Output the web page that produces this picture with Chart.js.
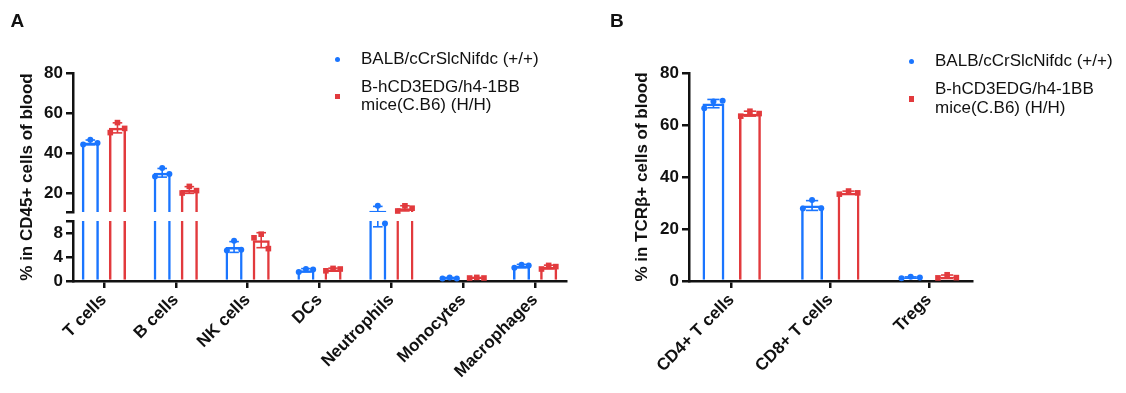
<!DOCTYPE html>
<html>
<head>
<meta charset="utf-8">
<script src="https://cdn.jsdelivr.net/npm/chart.js@4.4.1/dist/chart.umd.min.js"></script>
<style>
  body { margin: 0; background: #fff; }
  #page { position: relative; width: 1126px; height: 393px; overflow: hidden; font-family: "Liberation Sans", Arial, sans-serif; color: #111; }
  canvas { position: absolute; top: 0; }
  .letter { position: absolute; font-size: 19px; line-height: 19px; font-weight: bold; }
  .ytitle { position: absolute; width: 260px; height: 20px; line-height: 20px; text-align: center; font-size: 17px; font-weight: bold; transform: rotate(-90deg); white-space: nowrap; }
  .legend { position: absolute; font-size: 17px; line-height: 18.5px; }
  .legend .row { position: relative; white-space: pre; }
  .legend .mk { position: absolute; }
  .legend .dot { width: 5px; height: 5px; border-radius: 50%; left: -25.8px; top: 7px; }
  .legend .sq { width: 5.5px; height: 5.5px; left: -26.4px; top: 16px; }
</style>
</head>
<body>
<div id="page">
  <canvas id="chartA" width="590" height="393" style="left:0"></canvas>
  <canvas id="chartB" width="536" height="393" style="left:590px"></canvas>
  <div class="letter" style="left:10.5px;top:11px">A</div>
  <div class="letter" style="left:610px;top:11px">B</div>
</div>
<script>
// panel A: % in CD45+ cells, three mice per group
const categoriesA = ['T cells', 'B cells', 'NK cells', 'DCs', 'Neutrophils', 'Monocytes', 'Macrophages'];
const balbA = [[44.2, 46.6, 45.0], [28.3, 32.5, 29.5], [5.1, 6.7, 5.2], [1.5, 2.0, 1.9],
               [10.3, 13.6, 9.6], [0.4, 0.6, 0.4], [2.2, 2.7, 2.6]];
const humA = [[50.2, 55.2, 52.3], [20.0, 23.3, 21.2], [7.2, 7.8, 5.4], [1.7, 2.1, 2.0],
              [11.0, 13.6, 12.4], [0.5, 0.6, 0.5], [2.0, 2.6, 2.4]];
const ticksHighA = [20, 40, 60, 80];
const ticksLowA = [0, 4, 8];
const breakLowA = 10;    // top of the lower segment
const breakHighA = 10.5; // bottom of the upper segment

// panel B: % in TCRb+ cells
const categoriesB = ['CD4+ T cells', 'CD8+ T cells', 'Tregs'];
const balbB = [[66.4, 69.0, 69.3], [27.9, 31.2, 28.0], [1.1, 1.6, 1.3]];
const humB = [[63.4, 65.3, 64.4], [33.4, 34.6, 33.9], [1.2, 2.4, 1.3]];
const ticksB = [0, 20, 40, 60, 80];

const seriesNames = ['BALB/cCrSlcNifdc (+/+)', 'B-hCD3EDG/h4-1BB\nmice(C.B6) (H/H)'];
const yTitles = ['% in CD45+ cells of blood', '% in TCRβ+ cells of blood'];
const BLUE = '#1a75ff';
const RED = '#e23a3d';
const INK = '#111';

Chart.defaults.font.family = '"Liberation Sans", Arial, sans-serif';
Chart.defaults.font.size = 17;
Chart.defaults.font.weight = 'bold';
Chart.defaults.color = INK;

const mean = a => a.reduce((s, v) => s + v, 0) / a.length;
const sd = a => {
    const m = mean(a);
    return Math.sqrt(a.reduce((s, v) => s + (v - m) * (v - m), 0) / (a.length - 1));
};

const axisLine = { display: true, color: INK, width: 2.5 };
const tickMarks = { display: true, offset: false, drawOnChartArea: false, drawTicks: true, tickLength: 7, color: INK, lineWidth: 2.5 };

function xScale(cats, lo, hi) {
    return {
        type: 'linear', min: lo, max: hi, offset: false,
        afterBuildTicks: s => { s.ticks = cats.map((c, i) => ({ value: i })); },
        afterFit: s => { s.height = 112; s.paddingLeft = 0; s.paddingRight = 0; },
        ticks: { autoSkip: false, minRotation: 45, maxRotation: 45, padding: 2, callback: v => cats[v] },
        grid: tickMarks,
        border: axisLine
    };
}

function yScale(min, max, ticks, blank, width, extra) {
    return Object.assign({
        type: 'linear', position: 'left', min: min, max: max,
        afterBuildTicks: s => { s.ticks = ticks.map(v => ({ value: v })); },
        afterFit: s => { s.width = width; s.paddingTop = 0; s.paddingBottom = 0; },
        ticks: { autoSkip: false, padding: 3, callback: v => (blank.includes(v) ? '' : v) },
        grid: tickMarks,
        border: axisLine
    }, extra || {});
}

function bars(groups, color, stack, axis, marker, pct) {
    return {
        data: groups.map((g, i) => ({ x: i, y: mean(g) })),
        groups: groups,
        marker: marker,
        stack: stack,
        yAxisID: axis,
        borderColor: color,
        backgroundColor: 'rgba(255,255,255,0)',
        borderWidth: 2.5,
        categoryPercentage: pct[0],
        barPercentage: pct[1]
    };
}

// each dataset only paints inside the box of its own y axis (broken axis)
const clipToAxis = {
    id: 'clipToAxis',
    beforeDatasetDraw(chart, args) {
        const s = chart.scales[args.meta.yAxisID];
        const a = chart.chartArea;
        chart.ctx.save();
        chart.ctx.beginPath();
        chart.ctx.rect(a.left, s.top, a.right - a.left, s.bottom - s.top);
        chart.ctx.clip();
    },
    afterDatasetDraw(chart) {
        chart.ctx.restore();
    }
};

const spread = [-0.42, 0, 0.42];

function makeMarks(segments) {
    return {
        id: 'marks',
        afterDatasetsDraw(chart) {
            const ctx = chart.ctx;
            const segs = segments.map(s => ({ scale: chart.scales[s.axis], lo: s.lo, hi: s.hi }));
            const pix = v => {
                const s = segs.find(s => v >= s.lo && v <= s.hi);
                return s ? s.scale.getPixelForValue(v) : null;
            };
            const line = (x0, y0, x1, y1) => {
                ctx.beginPath(); ctx.moveTo(x0, y0); ctx.lineTo(x1, y1); ctx.stroke();
            };
            chart.data.datasets.forEach((ds, di) => {
                if (!ds.marker) return;
                const meta = chart.getDatasetMeta(di);
                meta.data.forEach((bar, i) => {
                    const g = ds.groups[i];
                    const m = mean(g), d = sd(g);
                    const half = bar.width * 0.28;
                    ctx.save();
                    ctx.strokeStyle = ds.borderColor;
                    ctx.fillStyle = ds.borderColor;
                    ctx.lineWidth = 1.6;
                    segs.forEach(s => {
                        const a = Math.max(m - d, s.lo), b = Math.min(m + d, s.hi);
                        if (a < b) line(bar.x, s.scale.getPixelForValue(a), bar.x, s.scale.getPixelForValue(b));
                    });
                    [m - d, m + d].forEach(v => {
                        const y = pix(v);
                        if (y !== null) line(bar.x - half, y, bar.x + half, y);
                    });
                    g.forEach((v, k) => {
                        const y = pix(v);
                        if (y === null) return;
                        const x = bar.x + spread[k] * bar.width;
                        if (ds.marker === 'circle') {
                            ctx.beginPath(); ctx.arc(x, y, 3, 0, Math.PI * 2); ctx.fill();
                        } else {
                            ctx.fillRect(x - 2.8, y - 2.8, 5.6, 5.6);
                        }
                    });
                    ctx.restore();
                });
            });
        }
    };
}

const pctA = [0.755, 0.63];
new Chart(document.getElementById('chartA'), {
    type: 'bar',
    data: {
        datasets: [
            bars(balbA, BLUE, 'b', 'yHigh', 'circle', pctA),
            bars(humA, RED, 'r', 'yHigh', 'square', pctA),
            bars(balbA, BLUE, 'b', 'yLow', null, pctA),
            bars(humA, RED, 'r', 'yLow', null, pctA)
        ]
    },
    options: {
        responsive: false,
        animation: false,
        layout: { padding: { left: 0, right: 24, top: 73, bottom: 0 } },
        plugins: { legend: { display: false }, tooltip: { enabled: false } },
        scales: {
            x: xScale(categoriesA, -0.43, categoriesA.length - 1 + 0.43),
            // stacked axes are laid out bottom-up in the order they are defined
            yLow: yScale(0, breakLowA, ticksLowA.concat([breakLowA]), [breakLowA], 73, { stack: 'A', stackWeight: 60 }),
            yGap: {
                type: 'linear', position: 'left', stack: 'A', stackWeight: 9,
                afterFit: s => { s.width = 73; s.paddingTop = 0; s.paddingBottom = 0; },
                ticks: { display: false }, grid: { display: false }, border: { display: false }
            },
            yHigh: yScale(breakHighA, 80, [breakHighA].concat(ticksHighA), [breakHighA], 73, { stack: 'A', stackWeight: 139 })
        }
    },
    plugins: [clipToAxis, makeMarks([
        { axis: 'yHigh', lo: breakHighA, hi: Infinity },
        { axis: 'yLow', lo: -Infinity, hi: breakLowA }
    ])]
});

const pctB = [0.74, 0.6];
new Chart(document.getElementById('chartB'), {
    type: 'bar',
    data: {
        datasets: [
            bars(balbB, BLUE, undefined, 'y', 'circle', pctB),
            bars(humB, RED, undefined, 'y', 'square', pctB)
        ]
    },
    options: {
        responsive: false,
        animation: false,
        layout: { padding: { left: 0, right: 154, top: 73, bottom: 0 } },
        plugins: { legend: { display: false }, tooltip: { enabled: false } },
        scales: {
            x: xScale(categoriesB, -0.433, categoriesB.length - 1 + 0.437),
            y: yScale(0, 80, ticksB, [], 99)
        }
    },
    plugins: [clipToAxis, makeMarks([{ axis: 'y', lo: -Infinity, hi: Infinity }])]
});

// html legend and axis titles
const page = document.getElementById('page');
function legend(left, top) {
    const el = document.createElement('div');
    el.className = 'legend';
    el.style.left = left + 'px';
    el.style.top = top + 'px';
    seriesNames.forEach((name, i) => {
        const row = document.createElement('div');
        row.className = 'row';
        row.style.marginTop = i ? '9.9px' : '0';
        const mk = document.createElement('span');
        mk.className = 'mk ' + (i ? 'sq' : 'dot');
        mk.style.background = i ? RED : BLUE;
        row.appendChild(mk);
        row.appendChild(document.createTextNode(name));
        el.appendChild(row);
    });
    page.appendChild(el);
}
function yTitle(text, cx, cy) {
    const el = document.createElement('div');
    el.className = 'ytitle';
    el.style.left = (cx - 130) + 'px';
    el.style.top = (cy - 10) + 'px';
    el.textContent = text;
    page.appendChild(el);
}
legend(361, 49.5);
legend(935, 51.9);
yTitle(yTitles[0], 27, 177);
yTitle(yTitles[1], 642, 177);
</script>
</body>
</html>
